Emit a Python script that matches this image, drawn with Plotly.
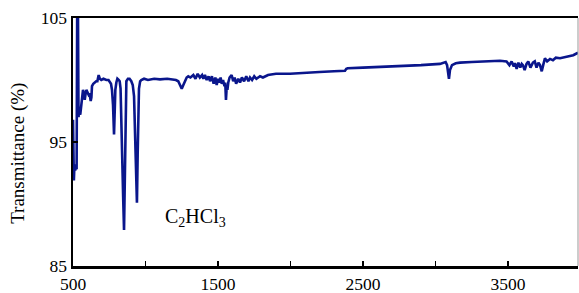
import plotly.graph_objects as go

# IR spectrum of C2HCl3: wavenumber (cm-1) and transmittance (%)
wavenumber = [
    500, 503, 506, 510, 515, 520, 525, 529, 534, 538, 542, 550, 557, 563, 569, 575, 581, 587,
    592, 600, 608, 615, 622, 627, 631, 640, 650, 660, 668, 673, 677, 685, 695, 710, 730, 745,
    753, 762, 769, 776, 783, 788, 792, 799, 806, 815, 822, 828, 833, 840, 846, 852, 857, 862,
    868, 879, 890, 902, 912, 921, 930, 936, 941, 946, 955, 963, 971, 990, 1017, 1060, 1100,
    1150, 1190, 1210, 1226, 1238, 1250, 1261, 1272, 1284, 1295, 1310, 1330, 1345, 1360, 1375,
    1390, 1399, 1410, 1422, 1435, 1445, 1458, 1470, 1482, 1491, 1500, 1510, 1518, 1526, 1535,
    1545, 1550, 1555, 1560, 1565, 1571, 1580, 1594, 1605, 1615, 1625, 1640, 1652, 1665, 1680,
    1695, 1710, 1721, 1735, 1750, 1765, 1790, 1810, 1845, 1900, 1997, 2100, 2200, 2300, 2376,
    2385, 2395, 2500, 2600, 2755, 2900, 3031, 3055, 3070, 3080, 3088, 3093, 3100, 3114, 3140,
    3169, 3250, 3376, 3445, 3490, 3510, 3525, 3540, 3548, 3560, 3572, 3585, 3595, 3603, 3615,
    3628, 3640, 3655, 3672, 3685, 3697, 3710, 3721, 3733, 3745, 3755, 3770, 3790, 3810, 3830,
    3859, 3880, 3905, 3928, 3950, 3983,
]
transmittance = [
    96.8, 94.0, 91.9, 93.2, 92.7, 93.0, 92.8, 106.0, 106.0, 97.0, 97.4, 97.2, 97.8, 98.4, 99.2,
    98.9, 98.4, 98.9, 99.2, 99.0, 98.8, 98.9, 98.3, 98.6, 99.5, 99.7, 99.8, 99.9, 99.9, 100.1,
    100.4, 100.1, 100.0, 100.1, 100.0, 100.0, 99.9, 99.7, 99.2, 98.0, 95.6, 97.6, 99.2, 99.8,
    100.1, 100.0, 99.9, 99.3, 97.4, 94.0, 90.5, 87.9, 92.0, 97.5, 99.9, 100.1, 100.1, 99.9,
    99.6, 98.7, 95.5, 92.3, 90.1, 94.0, 99.3, 99.9, 100.0, 100.1, 100.0, 100.1, 100.05, 100.1,
    100.05, 100.0, 99.9, 99.6, 99.3, 99.6, 99.9, 100.2, 100.3, 100.2, 100.4, 100.1, 100.5,
    100.2, 100.4, 100.1, 100.4, 100.0, 100.3, 99.9, 100.3, 99.7, 100.2, 99.6, 100.1, 99.8,
    100.2, 99.7, 100.0, 99.5, 99.8, 98.4, 99.4, 99.2, 99.8, 100.2, 100.4, 99.9, 100.2, 99.7,
    100.1, 99.8, 100.2, 99.9, 100.3, 99.9, 100.2, 100.0, 100.3, 100.1, 100.3, 100.2, 100.4,
    100.5, 100.5, 100.6, 100.65, 100.7, 100.75, 100.9, 100.95, 101.0, 101.05, 101.1, 101.2,
    101.3, 101.4, 101.45, 101.2, 100.6, 100.1, 100.8, 101.2, 101.35, 101.4, 101.45, 101.5,
    101.55, 101.5, 101.2, 101.5, 101.1, 101.35, 100.9, 101.4, 101.0, 101.3, 101.2, 100.8,
    101.3, 101.5, 101.0, 101.4, 101.5, 101.0, 101.4, 101.2, 100.7, 101.3, 101.75, 101.5,
    101.7, 101.6, 101.8, 101.75, 101.8, 101.9, 101.9, 102.0, 102.2,
]

x_tick_values = [500, 1500, 2500, 3500]
x_tick_labels = ["500", "1500", "2500", "3500"]
x_minor_tick_values = [1000, 2000, 3000]
y_tick_values = [85, 95, 105]
y_tick_labels = ["85", "95", "105"]

serif = "Liberation Serif"

fig = go.Figure()
fig.add_trace(go.Scatter(
    x=wavenumber, y=transmittance, mode="lines",
    line=dict(color="#0a168c", width=2.6),
    hoverinfo="skip", showlegend=False,
))

fig.update_layout(
    width=579, height=293,
    margin=dict(l=73, r=1, t=18, b=27, autoexpand=False),
    paper_bgcolor="white", plot_bgcolor="white",
    font=dict(family=serif, size=17, color="black"),
)
fig.update_xaxes(
    range=[500, 3983], tickvals=x_tick_values, ticktext=x_tick_labels,
    ticks="inside", ticklen=5, tickwidth=1.5, tickcolor="black",
    minor=dict(tickvals=x_minor_tick_values, ticks="inside", ticklen=5,
               tickwidth=1.5, tickcolor="black", showgrid=False),
    showline=True, linecolor="black", linewidth=2.5, mirror=True,
    showgrid=False, zeroline=False, automargin=False,
    tickfont=dict(family=serif, size=17.5, color="black"),
)
fig.update_yaxes(
    range=[85, 105], tickvals=y_tick_values, ticktext=y_tick_labels,
    ticks="inside", ticklen=5, tickwidth=1.5, tickcolor="black",
    showline=True, linecolor="black", linewidth=2.5,
    showgrid=False, zeroline=False, automargin=False,
    tickfont=dict(family=serif, size=17.5, color="black"),
)
fig.add_shape(type="line", xref="paper", yref="paper", x0=1, x1=1, y0=0, y1=1,
              line=dict(color="#999999", width=1))
fig.add_annotation(
    text="Transmittance (%)", textangle=-90, xref="paper", yref="paper",
    x=-0.109, y=0.456, xanchor="center", yanchor="middle", showarrow=False,
    font=dict(family=serif, size=19, color="black"),
)
fig.add_annotation(
    text="C<sub>2</sub>HCl<sub>3</sub>", xref="x", yref="y",
    x=1118, y=88.9, xanchor="left", yanchor="middle", showarrow=False,
    font=dict(family=serif, size=20, color="black"),
)

fig.write_html(
    "out.html",
    config={"displayModeBar": False, "staticPlot": True},
    post_script="document.body.style.margin='0';document.body.style.overflow='hidden';",
)
